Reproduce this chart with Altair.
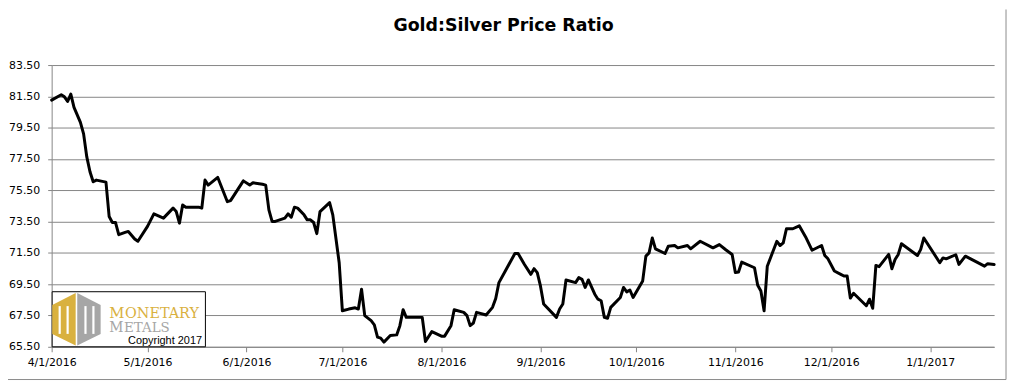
import altair as alt
import pandas as pd

START = "2016-04-01"

# days after 4/1/2016
day_offsets = [
    0, 3, 4, 5, 6, 7, 9, 10, 11, 12,
    13, 14, 17, 18, 19, 20, 21, 23, 24, 26,
    27, 30, 32, 35, 38, 39, 40, 41, 42, 46,
    47, 48, 49, 52, 55, 56, 60, 62, 63, 66,
    67, 68, 69, 70, 73, 74, 75, 76, 77, 79,
    80, 81, 82, 83, 84, 87, 88, 90, 91, 93,
    95, 96, 97, 98, 100, 101, 102, 103, 104, 106,
    108, 109, 110, 111, 116, 117, 119, 122, 123, 125,
    126, 129, 130, 131, 132, 133, 136, 138, 139, 140,
    142, 145, 146, 148, 150, 151, 152, 153, 154, 158,
    159, 160, 161, 164, 165, 166, 167, 168, 170, 171,
    172, 173, 174, 175, 178, 179, 180, 181, 182, 185,
    186, 187, 188, 189, 192, 193, 195, 196, 199, 200,
    203, 207, 209, 211, 213, 214, 215, 216, 220, 221,
    222, 223, 224, 227, 228, 229, 230, 232, 234, 236,
    238, 241, 242, 243, 245, 247, 248, 249, 250, 251,
    255, 256, 257, 258, 259, 262, 263, 264, 265, 266,
    271, 272, 273, 278, 279, 280, 283, 284, 286, 292,
    293, 295,
]

ratios = [
    81.26, 81.60, 81.47, 81.17, 81.64, 80.79, 79.84, 79.10, 77.63, 76.68,
    76.04, 76.15, 76.02, 73.82, 73.44, 73.44, 72.66, 72.81, 72.87, 72.39,
    72.24, 73.19, 73.99, 73.72, 74.36, 74.14, 73.40, 74.56, 74.42, 74.42,
    74.36, 76.15, 75.83, 76.32, 74.77, 74.84, 76.10, 75.83, 75.98, 75.88,
    75.83, 74.25, 73.51, 73.51, 73.72, 73.99, 73.78, 74.42, 74.36, 73.93,
    73.61, 73.61, 73.44, 72.73, 74.14, 74.71, 73.93, 70.87, 67.80, 67.91,
    67.99, 67.91, 69.18, 67.49, 67.17, 66.90, 66.12, 66.05, 65.80, 66.22,
    66.26, 66.85, 67.87, 67.38, 67.38, 65.84, 66.47, 66.18, 66.18, 66.85,
    67.87, 67.70, 67.49, 66.85, 67.02, 67.70, 67.53, 68.02, 68.59, 69.60,
    70.34, 71.46, 71.46, 70.76, 70.13, 70.49, 70.24, 69.39, 68.23, 67.38,
    67.91, 68.23, 69.77, 69.60, 69.92, 69.81, 69.29, 69.77, 68.86, 68.54,
    68.44, 67.38, 67.32, 68.02, 68.65, 69.29, 69.01, 69.13, 68.65, 69.71,
    71.29, 71.50, 72.45, 71.76, 71.46, 71.92, 71.97, 71.82, 71.97, 71.76,
    72.24, 71.82, 72.03, 71.70, 71.40, 70.24, 70.28, 70.91, 70.55, 69.43,
    69.07, 67.80, 70.65, 72.24, 71.97, 72.14, 73.04, 73.04, 73.23, 72.52,
    71.67, 71.97, 71.33, 71.12, 70.34, 70.13, 70.02, 70.02, 68.61, 68.92,
    68.12, 68.54, 67.96, 70.70, 70.62, 71.40, 70.49, 71.08, 71.40, 72.08,
    71.33, 71.71, 72.45, 70.87, 71.18, 71.12, 71.38, 70.76, 71.29, 70.65,
    70.81, 70.76,
]

y_ticks = [65.5, 67.5, 69.5, 71.5, 73.5, 75.5, 77.5, 79.5, 81.5, 83.5]
month_ticks = [(2016, 4), (2016, 5), (2016, 6), (2016, 7), (2016, 8),
               (2016, 9), (2016, 10), (2016, 11), (2016, 12), (2017, 1)]
domain_end = (2017, 1, 21)

title_text = "Gold:Silver Price Ratio"

dates = (pd.Timestamp(START) + pd.to_timedelta(day_offsets, unit="D")).strftime("%Y-%m-%d")
df = pd.DataFrame({"date": list(dates), "ratio": ratios})
one = pd.DataFrame({"k": [0]})

GRID = "#868686"
GOLD = "#D9B13F"
GRAY = "#A6A6A6"

line = alt.Chart(df).mark_line(
    color="black", strokeWidth=3, strokeJoin="round", strokeCap="round"
).encode(
    x=alt.X(
        "date:T",
        scale=alt.Scale(
            type="utc",
            domain=[alt.DateTime(year=2016, month=4, date=1, utc=True),
                    alt.DateTime(year=domain_end[0], month=domain_end[1], date=domain_end[2], utc=True)],
        ),
        axis=alt.Axis(
            title="",
            values=[alt.DateTime(year=y, month=m, date=1, utc=True) for y, m in month_ticks],
            labelExpr="utcFormat(datum.value, '%-m/%-d/%Y')",
            grid=False, ticks=True, tickSize=5, tickColor=GRID,
            domainColor=GRID, labelAngle=0, labelFlush=False, labelOverlap=False,
            labelFont="DejaVu Sans", labelFontSize=11, labelColor="black", labelPadding=5,
        ),
    ),
    y=alt.Y(
        "ratio:Q",
        scale=alt.Scale(domain=[65.5, 83.5], nice=False, zero=False),
        axis=alt.Axis(
            title="", values=y_ticks, format=".2f",
            grid=True, gridColor=GRID, gridWidth=1,
            ticks=True, tickSize=4, tickColor=GRID, domainColor=GRID,
            labelFont="DejaVu Sans", labelFontSize=11, labelColor="black", labelPadding=8,
            labelFlush=False, labelOverlap=False,
        ),
    ),
)

box = alt.Chart(one).mark_rect(fill="white", stroke="black", strokeWidth=1).encode(
    x=alt.value(0.5), x2=alt.value(155), y=alt.value(228.5), y2=alt.value(284)
)

hex_left = alt.Chart(one).mark_point(
    shape="M 0 -1 L -0.89 -0.54 L -0.89 0.56 L 0 1 Z", filled=True, fill=GOLD,
    size=2809, opacity=1, strokeWidth=0,
).encode(x=alt.value(24.2), y=alt.value(256.3))

hex_right = alt.Chart(one).mark_point(
    shape="M 0 -1 L 0.89 -0.54 L 0.89 0.56 L 0 1 Z", filled=True, fill=GRAY,
    size=2809, opacity=1, strokeWidth=0,
).encode(x=alt.value(25.8), y=alt.value(256.3))

stripes = []
for x0 in [7, 15, 33, 41]:
    stripes.append(
        alt.Chart(one).mark_rect(fill="white").encode(
            x=alt.value(x0), x2=alt.value(x0 + 2.2), y=alt.value(243), y2=alt.value(271)
        )
    )


def txt(s, x, y, size, color, font, weight="normal", align="left", baseline="alphabetic"):
    return alt.Chart(one).mark_text(
        text=s, align=align, baseline=baseline, font=font, fontSize=size,
        fontWeight=weight, color=color,
    ).encode(x=alt.value(x), y=alt.value(y))


texts = [
    txt("M", 58, 254.5, 15, GOLD, "DejaVu Serif"),
    txt("ONETARY", 74, 254.5, 14.5, GOLD, "DejaVu Serif"),
    txt("M", 58, 269, 14, GRAY, "DejaVu Serif"),
    txt("ETALS", 73, 269, 13.5, GRAY, "DejaVu Serif"),
    txt("Copyright 2017", 77, 281, 11, "black", "Liberation Sans"),
    txt(title_text, 455.5, -39, 17.5, "black", "DejaVu Sans", weight="bold",
        align="center", baseline="middle"),
]

border_r = alt.Chart(one).mark_rule(color="#8c8c8c", strokeWidth=1).encode(
    x=alt.value(962), y=alt.value(-56), y2=alt.value(317)
)
border_b = alt.Chart(one).mark_rule(color="#8c8c8c", strokeWidth=1).encode(
    x=alt.value(-44), x2=alt.value(962), y=alt.value(317)
)

chart = alt.layer(
    line, box, hex_left, hex_right, *stripes, *texts, border_r, border_b
).properties(
    width=950, height=284,
    padding={"left": 44, "top": 56, "right": 14, "bottom": 35},
    autosize=alt.AutoSizeParams(type="none"),
    background="white",
).configure_view(strokeWidth=0)

chart.save("out.html", embed_options={"renderer": "svg", "actions": False})
